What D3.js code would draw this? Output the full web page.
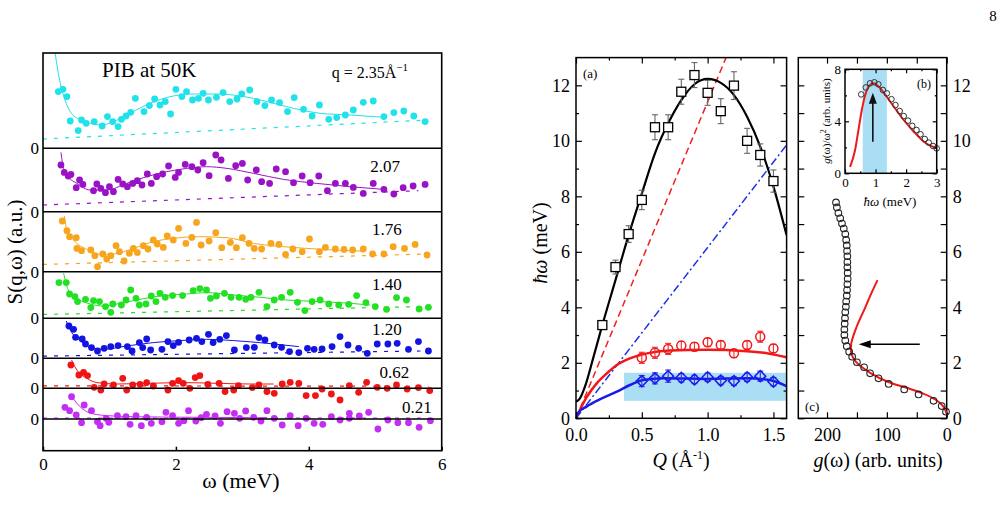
<!DOCTYPE html>
<html>
<head>
<meta charset="utf-8">
<script src="https://cdn.jsdelivr.net/npm/d3@7"></script>
<style>
  body { margin: 0; background: #fff; }
  svg { display: block; font-family: "Liberation Serif", "Times New Roman", serif; }
</style>
</head>
<body>
<div id="canvas"></div>
<script>
/*
 * Data
 *
 */
const omegaTicks = [0, 2, 4, 6];
const qLabels = ['2.35', '2.07', '1.76', '1.40', '1.20', '0.62', '0.21'];

// S(q,w) points [omega, S], fitted curves and dashed backgrounds, one set per q
const q235Pts = [[0.23,5.67],[0.30,5.9],[0.36,5.17],[0.41,2.73],[0.53,1.77],[0.58,2.83],[0.65,2.5],[0.77,2.67],[0.89,2.23],[0.97,3.17],[1.05,2.67],[1.13,2.17],[1.18,2.9],[1.25,3.23],[1.32,3.6],[1.39,5.0],[1.52,3.67],[1.60,4.27],[1.68,4.93],[1.76,4.33],[1.84,4.67],[1.92,3.43],[2.00,5.9],[2.09,5.17],[2.16,5.67],[2.25,4.83],[2.34,5.0],[2.41,5.5],[2.49,4.83],[2.61,5.1],[2.71,5.57],[2.81,4.67],[2.92,4.93],[2.99,5.43],[3.11,5.83],[3.22,4.67],[3.34,4.27],[3.44,4.83],[3.56,4.57],[3.68,3.67],[3.78,5.07],[3.92,3.9],[4.05,3.23],[4.16,4.33],[4.30,2.9],[4.42,3.07],[4.55,3.33],[4.67,3.83],[4.82,4.6],[4.97,4.73],[5.13,3.17],[5.28,3.57],[5.43,3.73],[5.58,3.23],[5.75,2.67]];
const q235Fit = [[0.18,9.6],[0.26,6.5],[0.33,4.83],[0.41,3.67],[0.56,2.83],[0.71,2.5],[0.88,2.33],[1.06,2.67],[1.31,3.5],[1.61,4.5],[1.96,5.23],[2.26,5.43],[2.62,5.43],[2.97,5.23],[3.37,4.67],[3.77,4.0],[4.17,3.5],[4.62,3.33],[5.13,3.1]];
const q235Base = [[0,0.93],[5.8,2.83]];

const q207Pts = [[0.27,4.67],[0.32,3.93],[0.38,3.57],[0.42,3.73],[0.50,2.4],[0.55,3.17],[0.60,2.73],[0.76,2.1],[0.81,2.77],[0.87,2.33],[0.94,1.9],[1.00,2.5],[1.06,2.0],[1.13,3.23],[1.20,2.77],[1.27,2.5],[1.35,2.83],[1.42,3.1],[1.49,2.67],[1.57,3.77],[1.63,2.83],[1.71,3.5],[1.80,3.77],[1.89,4.57],[1.99,3.43],[2.04,3.93],[2.14,4.73],[2.24,4.5],[2.33,4.17],[2.41,4.9],[2.50,3.6],[2.60,5.67],[2.68,5.17],[2.79,3.33],[2.90,4.6],[3.00,4.83],[3.08,3.17],[3.21,4.17],[3.29,3.0],[3.41,2.83],[3.51,4.27],[3.65,4.0],[3.77,2.9],[3.90,3.57],[4.02,2.9],[4.15,3.57],[4.28,2.1],[4.40,2.83],[4.55,2.83],[4.67,2.43],[4.82,1.83],[4.97,2.83],[5.13,2.23],[5.28,1.77],[5.42,2.4],[5.57,2.57],[5.75,2.73]];
const q207Fit = [[0.27,5.93],[0.31,4.33],[0.38,3.5],[0.51,2.83],[0.71,2.17],[0.96,2.17],[1.26,2.83],[1.56,3.5],[1.86,4.0],[2.16,4.33],[2.46,4.5],[2.77,4.33],[3.17,3.83],[3.62,3.23],[4.12,2.83],[4.62,2.5],[5.13,2.23]];
const q207Base = [[0,0.67],[5.65,2.1]];

const q176Pts = [[0.29,5.07],[0.36,4.1],[0.40,3.5],[0.50,3.4],[0.51,2.33],[0.58,2.1],[0.72,2.17],[0.78,1.6],[0.82,0.5],[0.90,1.77],[0.96,1.27],[1.02,1.6],[1.10,2.6],[1.15,2.0],[1.22,1.07],[1.30,1.83],[1.36,2.33],[1.42,1.9],[1.51,2.6],[1.58,2.27],[1.66,3.17],[1.72,2.77],[1.81,2.43],[1.87,3.57],[1.96,3.17],[2.04,4.33],[2.15,2.83],[2.24,3.43],[2.31,4.93],[2.38,2.67],[2.50,3.07],[2.60,3.9],[2.69,2.4],[2.82,2.93],[2.91,2.4],[3.00,3.4],[3.10,2.83],[3.18,2.33],[3.29,2.27],[3.43,2.83],[3.55,2.73],[3.65,1.73],[3.76,2.27],[3.90,2.0],[4.01,3.27],[4.16,2.0],[4.25,2.43],[4.40,2.27],[4.53,2.23],[4.66,2.17],[4.82,2.27],[4.96,1.77],[5.13,1.77],[5.27,2.5],[5.44,2.33],[5.60,2.73],[5.78,1.67]];
const q176Fit = [[0.32,5.57],[0.36,4.17],[0.46,3.17],[0.66,2.23],[0.86,1.73],[1.06,1.77],[1.36,2.33],[1.66,3.0],[1.96,3.33],[2.36,3.5],[2.77,3.4],[3.17,2.83],[3.62,2.5],[4.12,2.27],[4.62,2.1],[4.82,2.07]];
const q176Base = [[0,0.73],[5.78,1.77]];

const q140Pts = [[0.24,3.57],[0.35,3.57],[0.40,2.43],[0.48,2.17],[0.52,1.67],[0.64,1.9],[0.72,1.07],[0.76,1.77],[0.85,1.67],[0.94,1.17],[1.02,0.6],[1.05,1.43],[1.18,1.33],[1.25,1.83],[1.32,2.83],[1.40,2.0],[1.45,1.33],[1.55,1.43],[1.63,2.23],[1.70,1.67],[1.76,2.5],[1.84,2.1],[1.95,2.27],[2.10,2.27],[2.26,2.77],[2.36,2.97],[2.46,2.83],[2.52,2.0],[2.61,2.23],[2.73,2.5],[2.83,2.1],[2.95,2.1],[3.05,1.9],[3.13,2.1],[3.25,2.6],[3.37,1.17],[3.48,1.83],[3.59,2.1],[3.72,2.6],[3.83,1.6],[3.94,0.77],[4.05,1.67],[4.17,1.83],[4.30,1.43],[4.45,1.33],[4.60,1.4],[4.72,2.27],[4.86,1.57],[5.00,1.17],[5.17,0.9],[5.32,2.07],[5.47,1.83],[5.66,0.93],[5.80,1.1]];
const q140Fit = [[0.31,4.5],[0.38,2.83],[0.51,2.0],[0.71,1.43],[0.91,1.23],[1.16,1.5],[1.46,1.9],[1.76,2.23],[2.16,2.43],[2.46,2.57],[2.87,2.33],[3.27,2.1],[3.67,1.83],[4.17,1.67],[4.62,1.5],[4.92,1.33]];
const q140Base = [[0,0.38],[5.68,1.17]];

const q120Pts = [[0.39,3.23],[0.46,2.9],[0.49,2.1],[0.59,1.93],[0.64,1.43],[0.73,1.07],[0.82,0.73],[0.92,1.0],[1.02,1.17],[1.13,1.27],[1.27,1.17],[1.34,0.73],[1.45,1.57],[1.50,1.07],[1.56,1.93],[1.62,0.83],[1.79,0.9],[1.88,1.67],[1.96,1.27],[2.04,1.6],[2.20,1.83],[2.31,2.0],[2.39,1.67],[2.49,2.4],[2.56,1.57],[2.66,1.9],[2.76,2.27],[2.88,0.83],[3.06,1.07],[3.18,1.1],[3.25,2.07],[3.34,1.83],[3.48,1.33],[3.59,1.1],[3.71,0.67],[3.85,0.57],[3.98,1.0],[4.08,0.9],[4.20,0.93],[4.35,1.17],[4.47,2.17],[4.59,1.33],[4.75,1.0],[4.88,0.5],[5.03,1.43],[5.19,1.43],[5.33,1.5],[5.50,0.9],[5.65,1.67],[5.80,0.73]];
const q120Fit = [[0.35,3.73],[0.41,2.83],[0.56,1.77],[0.71,1.1],[0.91,0.9],[1.26,1.23],[1.66,1.57],[2.06,1.77],[2.46,1.9],[2.87,1.77],[3.37,1.5],[3.85,1.17]];
const q120Base = [[0,0.22],[5.68,0.73]];

const q062Pts = [[0.42,2.33],[0.54,1.33],[0.61,1.6],[0.67,1.27],[0.77,0.1],[0.87,-0.17],[0.92,0.43],[1.06,0.33],[1.20,1.0],[1.26,-0.17],[1.35,0.33],[1.46,0.4],[1.56,0.57],[1.66,0.23],[1.88,-0.17],[1.95,0.5],[2.04,0.77],[2.11,0.5],[2.21,0.0],[2.29,1.07],[2.36,1.27],[2.48,0.4],[2.65,0.5],[2.74,-0.33],[2.87,-0.17],[2.94,0.27],[3.15,0.07],[3.25,0.33],[3.37,-0.33],[3.48,-0.5],[3.60,0.43],[3.72,0.6],[3.85,0.5],[3.96,-0.73],[4.10,-0.73],[4.20,-0.07],[4.34,-0.57],[4.47,-1.17],[4.61,0.27],[4.75,-0.4],[4.87,0.6],[5.03,0.1],[5.18,0.0],[5.32,0.33],[5.48,-0.07],[5.65,0.07],[5.82,-0.23]];
const q062Fit = [[0.43,2.83],[0.51,1.83],[0.66,1.0],[0.81,0.57],[1.11,0.43],[1.61,0.5],[2.11,0.57],[2.61,0.5],[3.11,0.43],[3.47,0.43]];
const q062Base = [[0,0.25],[5.8,0.2]];

const q021Pts = [[0.33,1.17],[0.40,0.83],[0.43,2.23],[0.50,0.4],[0.58,-0.37],[0.62,1.4],[0.73,0.83],[0.82,-0.27],[0.86,-0.67],[0.95,0.07],[0.99,-0.33],[1.12,0.33],[1.25,0.23],[1.31,-0.53],[1.40,0.33],[1.48,-0.67],[1.56,0.17],[1.63,-0.43],[1.79,-0.27],[1.85,0.67],[1.95,0.33],[2.04,-0.43],[2.12,-0.17],[2.19,0.83],[2.30,-0.2],[2.38,0.13],[2.46,0.47],[2.59,0.3],[2.67,-0.43],[2.77,0.73],[2.88,0.57],[2.96,0.07],[3.05,0.8],[3.17,0.17],[3.28,-0.2],[3.37,0.83],[3.48,0.07],[3.60,-0.6],[3.72,0.33],[3.84,-0.67],[3.96,0.07],[4.08,-0.43],[4.21,-0.53],[4.34,0.23],[4.47,-0.1],[4.61,0.57],[4.61,0.07],[4.76,0.3],[4.90,0.67],[5.04,-1.0],[5.19,-0.1],[5.34,-0.37],[5.50,-0.37],[5.66,-0.83],[5.83,-0.17]];
const q021Fit = [[0.42,2.4],[0.51,1.57],[0.66,0.73],[0.86,0.4],[1.36,0.23],[2.36,0.17],[3.37,0.13]];
const q021Base = [[0,0.1],[5.8,0.1]];

// (a) dispersion: Q in 1/A, energies in meV
const qLong = [0.2,0.3,0.4,0.5,0.6,0.7,0.8,0.9,1.0,1.1,1.2,1.3,1.4,1.5];
const eLong = [3.36,5.45,6.64,7.87,10.49,10.49,11.77,12.37,11.73,11.07,11.99,10.0,9.49,8.55];
const errLong = [0.15,0.25,0.3,0.35,0.45,0.45,0.45,0.45,0.45,0.45,0.5,0.45,0.4,0.4];
const qTrans = [0.5,0.6,0.7,0.8,0.9,1.0,1.1,1.2,1.3,1.4,1.5];
const eTransHigh = [2.18,2.36,2.5,2.62,2.58,2.74,2.64,2.34,2.64,2.94,2.52];
const errTransHigh = [0.2,0.2,0.2,0.15,0.15,0.15,0.15,0.15,0.15,0.2,0.15];
const eTransLow = [1.34,1.44,1.52,1.46,1.40,1.48,1.36,1.34,1.48,1.52,1.32];
const errTransLow = [0.2,0.2,0.22,0.15,0.15,0.15,0.15,0.15,0.15,0.18,0.15];
const longFit = [[0,0.6],[0.03,0.72],[0.068,1.14],[0.13,2.16],[0.2,3.36],[0.3,4.98],[0.4,6.6],[0.5,8.1],[0.6,9.55],[0.7,10.63],[0.8,11.47],[0.9,12.04],[1.0,12.23],[1.1,12.09],[1.2,11.65],[1.3,10.87],[1.4,9.79],[1.5,8.35],[1.6,6.6]];
const transHighFit = [[0,0],[0.03,0.3],[0.08,0.75],[0.157,1.26],[0.23,1.6],[0.31,1.92],[0.41,2.16],[0.54,2.34],[0.71,2.44],[0.99,2.47],[1.3,2.42],[1.47,2.33],[1.6,2.2]];
const transLowFit = [[0,0],[0.017,0.2],[0.08,0.42],[0.18,0.68],[0.31,0.96],[0.41,1.2],[0.51,1.38],[0.67,1.44],[0.99,1.42],[1.3,1.44],[1.47,1.38],[1.6,1.16]];
const longSound = [[0,0],[1.14,13]];
const transSound = [[0,0],[1.6,9.85]];
const bandQ = [0.365, 1.6];
const bandE = [0.63, 1.64];

// (b) g(w)/w^2 inset
const bCircles = [[0.53,6.07],[0.68,6.6],[0.82,6.92],[0.96,7.0],[1.09,6.85],[1.24,6.41],[1.37,6.15],[1.52,5.7],[1.65,5.25],[1.79,4.79],[1.92,4.4],[2.06,4.05],[2.2,3.65],[2.34,3.33],[2.47,3.0],[2.61,2.64],[2.74,2.36],[2.88,2.1],[3.0,1.92]];
const bFit = [[0.165,0.5],[0.33,1.79],[0.44,3.33],[0.55,4.87],[0.66,6.0],[0.79,6.72],[0.93,6.92],[1.1,6.67],[1.32,6.03],[1.6,5.12],[1.92,4.1],[2.25,3.2],[2.58,2.43],[3.0,1.92]];
const bBand = [0.58, 1.37];
const bArrow = [0.91, 2.43, 6.2];

// (c) g(w) [g, w]
const cCircles = [[1.2,0.24],[8.3,0.44],[22,0.63],[47,0.86],[71,1.04],[97,1.24],[114,1.44],[128,1.62],[138,1.84],[150,2.02],[158,2.22],[163,2.4],[167,2.6],[169.5,2.8],[171,3.0],[171,3.2],[170.5,3.41],[170,3.61],[169.5,3.82],[168.5,4.02],[168,4.21],[167,4.42],[166.5,4.62],[166,4.83],[165.5,5.03],[165.5,5.24],[166,5.44],[166,5.63],[166,5.84],[166.5,6.03],[167,6.23],[168,6.43],[169.5,6.64],[172,6.84],[175,7.02],[178,7.21],[181,7.4],[183.5,7.6],[185,7.78]];
const cFit = [[0.5,0.18],[5,0.41],[17,0.65],[39,0.89],[67,1.1],[97.5,1.31],[128,1.64],[152,2.04],[159.6,2.35],[159.5,2.7],[150.5,3.3],[136,4.0],[126,4.5],[115.6,4.98]];
const cArrow = [45, 147, 2.67];

/*
 * Styles
 *
 */
const seriesColor = ['#1fe2ea', '#9a12c6', '#f7a51c', '#22e022', '#1414e0', '#f01414', '#c22ef2'];
const serif = '"Liberation Serif", "Times New Roman", serif';

const svg = d3.select('#canvas').append('svg')
  .attr('width', 1004)
  .attr('height', 507);

/*
 * Left figure: stacked S(q,w)
 *
 */
const xL = d3.scaleLinear().domain([0, 6]).range([43, 441.7]);
const yL = d3.scaleLinear().domain([-3.17, 36.6]).range([450.7, 53]);
const offsets = [27.07, 20.73, 14.73, 10.07, 6.07, 3.07, 0];
const labelPos = [[408, 7.03], [400, 3.97], [401.7, 3.67], [401.7, 2.83], [401.7, 2.33], [409.3, 1.03], [431.7, 0.6]];

const leftSeries = [
  { pts: q235Pts, fit: q235Fit, base: q235Base },
  { pts: q207Pts, fit: q207Fit, base: q207Base },
  { pts: q176Pts, fit: q176Fit, base: q176Base },
  { pts: q140Pts, fit: q140Fit, base: q140Base },
  { pts: q120Pts, fit: q120Fit, base: q120Base },
  { pts: q062Pts, fit: q062Fit, base: q062Base },
  { pts: q021Pts, fit: q021Fit, base: q021Base },
];

svg.append('clipPath').attr('id', 'clipL')
  .append('rect').attr('x', 43).attr('y', 53).attr('width', 398.7).attr('height', 397.7);

const left = svg.append('g').attr('clip-path', 'url(#clipL)');

leftSeries.forEach((s, i) => {
  const off = offsets[i];
  const line = d3.line()
    .x(d => xL(d[0]))
    .y(d => yL(off + d[1]));
  const g = left.append('g').attr('class', `q${i}`);
  g.append('path')
    .attr('d', line(s.base))
    .attr('fill', 'none')
    .attr('stroke', seriesColor[i])
    .attr('stroke-width', 1.2)
    .attr('stroke-dasharray', '4,7');
  g.append('path')
    .attr('d', line.curve(d3.curveMonotoneX)(s.fit))
    .attr('fill', 'none')
    .attr('stroke', seriesColor[i])
    .attr('stroke-width', 1);
  g.selectAll('circle')
    .data(s.pts)
    .enter()
    .append('circle')
    .attr('cx', d => xL(d[0]))
    .attr('cy', d => yL(off + d[1]))
    .attr('r', 3.4)
    .attr('fill', seriesColor[i]);
});

// baselines / separators
svg.append('g').selectAll('line')
  .data(offsets)
  .enter()
  .append('line')
  .attr('x1', xL(0)).attr('x2', xL(6))
  .attr('y1', d => yL(d)).attr('y2', d => yL(d))
  .attr('stroke', 'black')
  .attr('stroke-width', 1.5);

svg.append('g').selectAll('text')
  .data(offsets)
  .enter()
  .append('text')
  .attr('x', 39)
  .attr('y', d => yL(d) + 6)
  .attr('text-anchor', 'end')
  .style('font-size', '17px')
  .text('0');

svg.append('rect')
  .attr('x', 43).attr('y', 53).attr('width', 398.7).attr('height', 397.7)
  .attr('fill', 'none').attr('stroke', 'black').attr('stroke-width', 1.6);

const axisL = svg.append('g')
  .attr('transform', 'translate(0,450.7)')
  .call(d3.axisBottom(xL).tickValues(omegaTicks).tickFormat(d3.format('d')).tickSize(-4).tickPadding(7).tickSizeOuter(0));
axisL.select('.domain').remove();
axisL.attr('font-family', serif).attr('font-size', 17);
axisL.selectAll('line').attr('stroke-width', 1.5);

qLabels.forEach((q, i) => {
  const t = svg.append('text')
    .attr('x', labelPos[i][0])
    .attr('y', yL(offsets[i] + labelPos[i][1]))
    .attr('text-anchor', 'end')
    .style('font-size', i === 0 ? '16px' : '17px');
  if (i === 0) {
    t.text('q = 2.35Å');
    t.append('tspan').attr('dy', -7).style('font-size', '11px').text('−1');
  } else {
    t.text(q);
  }
});

svg.append('text')
  .attr('x', 102).attr('y', 77)
  .style('font-size', '21px')
  .text('PIB at 50K');

svg.append('text')
  .attr('transform', 'translate(22,252) rotate(-90)')
  .attr('text-anchor', 'middle')
  .style('font-size', '21px')
  .text('S(q,ω) (a.u.)');

svg.append('text')
  .attr('x', 241).attr('y', 488)
  .attr('text-anchor', 'middle')
  .style('font-size', '22px')
  .text('ω (meV)');

/*
 * Helper for boxed axes with inward ticks
 *
 */
function boxAxes(x, y, opt) {
  const g = svg.append('g');
  const [x0, x1] = x.range();
  const [y0, y1] = y.range();
  const put = (axis, tx, ty) => {
    const a = g.append('g').attr('transform', `translate(${tx},${ty})`).call(axis);
    a.select('.domain').remove();
    a.attr('font-family', serif).attr('font-size', opt.fs);
    a.selectAll('line').attr('stroke-width', 1.2);
    return a;
  };
  const fmt = opt.fmt || (d => d);
  put(d3.axisBottom(x).tickValues(opt.xMajor).tickSize(-opt.major).tickPadding(opt.xpad).tickFormat(opt.xLabels ? fmt : ''), 0, y0);
  put(d3.axisBottom(x).tickValues(opt.xMinor).tickSize(-opt.minor).tickFormat(''), 0, y0);
  put(d3.axisTop(x).tickValues(opt.xMajor).tickSize(-opt.major).tickFormat(''), 0, y1);
  put(d3.axisTop(x).tickValues(opt.xMinor).tickSize(-opt.minor).tickFormat(''), 0, y1);
  put(d3.axisLeft(y).tickValues(opt.yMajor).tickSize(-opt.major).tickPadding(opt.pad).tickFormat(opt.yLeft ? null : ''), x0, 0);
  put(d3.axisLeft(y).tickValues(opt.yMinor).tickSize(-opt.minor).tickFormat(''), x0, 0);
  put(d3.axisRight(y).tickValues(opt.yMajor).tickSize(-opt.major).tickPadding(opt.pad).tickFormat(opt.yRight ? null : ''), x1, 0);
  put(d3.axisRight(y).tickValues(opt.yMinor).tickSize(-opt.minor).tickFormat(''), x1, 0);
  g.append('rect')
    .attr('x', x0).attr('y', y1).attr('width', x1 - x0).attr('height', y0 - y1)
    .attr('fill', 'none').attr('stroke', 'black').attr('stroke-width', 1.5);
  return g;
}

/*
 * (a) dispersion
 *
 */
const xA = d3.scaleLinear().domain([0, 1.6]).range([576, 786.6]);
const yA = d3.scaleLinear().domain([0, 13]).range([418.3, 57.6]);
const lineA = d3.line().x(d => xA(d[0])).y(d => yA(d[1]));

svg.append('rect')
  .attr('x', xA(bandQ[0])).attr('y', yA(bandE[1]))
  .attr('width', xA(bandQ[1]) - xA(bandQ[0]))
  .attr('height', yA(bandE[0]) - yA(bandE[1]))
  .attr('fill', '#a9def5');

svg.append('path').attr('d', lineA(longSound))
  .attr('fill', 'none').attr('stroke', '#f02020').attr('stroke-width', 1.5).attr('stroke-dasharray', '7,4');
svg.append('path').attr('d', lineA(transSound))
  .attr('fill', 'none').attr('stroke', '#2030e8').attr('stroke-width', 1.5).attr('stroke-dasharray', '8,3,2,3');

svg.append('clipPath').attr('id', 'clipA')
  .append('rect').attr('x', 576).attr('y', 57.6).attr('width', 210.6).attr('height', 360.7);

const curvesA = svg.append('g').attr('clip-path', 'url(#clipA)');
curvesA.append('path').attr('d', lineA.curve(d3.curveMonotoneX)(longFit))
  .attr('fill', 'none').attr('stroke', 'black').attr('stroke-width', 2.2);
curvesA.append('path').attr('d', lineA.curve(d3.curveMonotoneX)(transHighFit))
  .attr('fill', 'none').attr('stroke', '#f01818').attr('stroke-width', 2.5);
curvesA.append('path').attr('d', lineA.curve(d3.curveMonotoneX)(transLowFit))
  .attr('fill', 'none').attr('stroke', '#1a1ae8').attr('stroke-width', 2.5);

function errorBars(qs, es, errs, color) {
  const g = svg.append('g').attr('stroke', color).attr('stroke-width', 1.1);
  qs.forEach((q, i) => {
    const x = xA(q);
    g.append('line').attr('x1', x).attr('x2', x).attr('y1', yA(es[i] - errs[i])).attr('y2', yA(es[i] + errs[i]));
    g.append('line').attr('x1', x - 3).attr('x2', x + 3).attr('y1', yA(es[i] - errs[i])).attr('y2', yA(es[i] - errs[i]));
    g.append('line').attr('x1', x - 3).attr('x2', x + 3).attr('y1', yA(es[i] + errs[i])).attr('y2', yA(es[i] + errs[i]));
  });
}
errorBars(qLong, eLong, errLong, '#666');
errorBars(qTrans, eTransHigh, errTransHigh, '#f03030');
errorBars(qTrans, eTransLow, errTransLow, '#3030e8');

svg.append('g').selectAll('rect')
  .data(qLong)
  .enter()
  .append('rect')
  .attr('x', (d) => xA(d) - 4.5)
  .attr('y', (d, i) => yA(eLong[i]) - 4.5)
  .attr('width', 9).attr('height', 9)
  .attr('fill', 'white').attr('stroke', 'black').attr('stroke-width', 1.3);

svg.append('g').selectAll('circle')
  .data(qTrans)
  .enter()
  .append('circle')
  .attr('cx', (d) => xA(d))
  .attr('cy', (d, i) => yA(eTransHigh[i]))
  .attr('r', 4.5)
  .attr('fill', 'none').attr('stroke', '#f01818').attr('stroke-width', 1.5);

svg.append('g').selectAll('path')
  .data(qTrans)
  .enter()
  .append('path')
  .attr('transform', (d, i) => `translate(${xA(d)},${yA(eTransLow[i])})`)
  .attr('d', 'M0,-5.5L5.5,0L0,5.5L-5.5,0Z')
  .attr('fill', 'none').attr('stroke', '#1a1ae8').attr('stroke-width', 1.5);

boxAxes(xA, yA, {
  xMajor: [0, 0.5, 1, 1.5], xMinor: [0.25, 0.75, 1.25],
  yMajor: d3.range(0, 13, 2), yMinor: d3.range(1, 13, 2),
  major: 6, minor: 3, pad: 6, xpad: 10, fs: 18, xLabels: true, yLeft: true, yRight: false,
  fmt: d3.format('.1f')
});

svg.append('text').attr('x', 583).attr('y', 78).style('font-size', '13px').text('(a)');

const qLab = svg.append('text')
  .attr('x', 681).attr('y', 467)
  .attr('text-anchor', 'middle')
  .style('font-size', '20px');
qLab.append('tspan').style('font-style', 'italic').text('Q');
qLab.append('tspan').text(' (Å');
qLab.append('tspan').attr('dy', -8).style('font-size', '12px').text('-1');
qLab.append('tspan').attr('dy', 8).text(')');

const eLab = svg.append('text')
  .attr('transform', 'translate(547,243) rotate(-90)')
  .attr('text-anchor', 'middle')
  .style('font-size', '20px');
eLab.append('tspan').style('font-style', 'italic').text('ħω');
eLab.append('tspan').text(' (meV)');

/*
 * (c) density of states
 *
 */
const xC = d3.scaleLinear().domain([248, 0]).range([798.3, 946.7]);
const yC = d3.scaleLinear().domain([0, 13]).range([418.3, 57.6]);

boxAxes(xC, yC, {
  xMajor: [0, 100, 200], xMinor: [50, 150],
  yMajor: d3.range(0, 13, 2), yMinor: d3.range(1, 13, 2),
  major: 6, minor: 6, pad: 6, xpad: 10, fs: 18, xLabels: true, yLeft: false, yRight: true
});

svg.append('path')
  .attr('d', d3.line().x(d => xC(d[0])).y(d => yC(d[1])).curve(d3.curveCatmullRom)(cFit))
  .attr('fill', 'none').attr('stroke', '#f01818').attr('stroke-width', 2);

svg.append('g').selectAll('circle')
  .data(cCircles)
  .enter()
  .append('circle')
  .attr('cx', d => xC(d[0]))
  .attr('cy', d => yC(d[1]))
  .attr('r', 3.3)
  .attr('fill', 'none').attr('stroke', '#222').attr('stroke-width', 1.1);

// arrow in (c)
svg.append('line')
  .attr('x1', xC(cArrow[0])).attr('x2', xC(cArrow[1]) + 10)
  .attr('y1', yC(cArrow[2])).attr('y2', yC(cArrow[2]))
  .attr('stroke', 'black').attr('stroke-width', 1.6);
svg.append('path')
  .attr('transform', `translate(${xC(cArrow[1])},${yC(cArrow[2])})`)
  .attr('d', 'M0,0L12,-4L12,4Z')
  .attr('fill', 'black');

svg.append('text').attr('x', 805).attr('y', 411).style('font-size', '13px').text('(c)');

const gLab = svg.append('text')
  .attr('x', 878).attr('y', 467)
  .attr('text-anchor', 'middle')
  .style('font-size', '20px');
gLab.append('tspan').style('font-style', 'italic').text('g');
gLab.append('tspan').text('(ω) (arb. units)');

/*
 * (b) inset
 *
 */
const xB = d3.scaleLinear().domain([0, 3]).range([845, 936.7]);
const yB = d3.scaleLinear().domain([0, 8]).range([173.3, 69.3]);

svg.append('rect')
  .attr('x', 845).attr('y', 69.3).attr('width', 91.7).attr('height', 104)
  .attr('fill', 'white');
svg.append('rect')
  .attr('x', xB(bBand[0])).attr('y', yB(8))
  .attr('width', xB(bBand[1]) - xB(bBand[0]))
  .attr('height', yB(0) - yB(8))
  .attr('fill', '#a9def5');

svg.append('path')
  .attr('d', d3.line().x(d => xB(d[0])).y(d => yB(d[1])).curve(d3.curveMonotoneX)(bFit))
  .attr('fill', 'none').attr('stroke', '#f01818').attr('stroke-width', 2);

svg.append('g').selectAll('circle')
  .data(bCircles)
  .enter()
  .append('circle')
  .attr('cx', d => xB(d[0]))
  .attr('cy', d => yB(d[1]))
  .attr('r', 2.8)
  .attr('fill', 'none').attr('stroke', '#333').attr('stroke-width', 1);

svg.append('line')
  .attr('x1', xB(bArrow[0])).attr('x2', xB(bArrow[0]))
  .attr('y1', yB(bArrow[1])).attr('y2', yB(bArrow[2]) + 8)
  .attr('stroke', '#111').attr('stroke-width', 1.6);
svg.append('path')
  .attr('transform', `translate(${xB(bArrow[0])},${yB(bArrow[2])})`)
  .attr('d', 'M0,0L-4,11L4,11Z')
  .attr('fill', '#111');

boxAxes(xB, yB, {
  xMajor: [0, 1, 2, 3], xMinor: [0.5, 1.5, 2.5],
  yMajor: [0, 4, 8], yMinor: [2, 6],
  major: 4, minor: 2, pad: 4, xpad: 4, fs: 13, xLabels: true, yLeft: true, yRight: false
});

svg.append('text').attr('x', 917).attr('y', 88).style('font-size', '12px').text('(b)');

const bx = svg.append('text')
  .attr('x', 890).attr('y', 206)
  .attr('text-anchor', 'middle')
  .style('font-size', '13px');
bx.append('tspan').style('font-style', 'italic').text('ħω');
bx.append('tspan').text(' (meV)');

const by = svg.append('text')
  .attr('transform', 'translate(830,121) rotate(-90)')
  .attr('text-anchor', 'middle')
  .style('font-size', '11px');
by.append('tspan').style('font-style', 'italic').text('g');
by.append('tspan').text('(ω)/ω');
by.append('tspan').attr('dy', -4).style('font-size', '8px').text('2');
by.append('tspan').attr('dy', 4).text(' (arb. units)');

// page number
svg.append('text').attr('x', 993).attr('y', 21).attr('text-anchor', 'middle').style('font-size', '15px').text('8');
</script>
</body>
</html>
